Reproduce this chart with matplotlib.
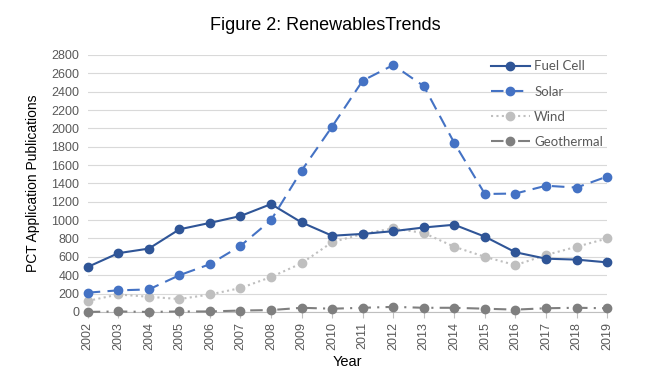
import matplotlib.pyplot as plt

years = list(range(2002, 2020))
fuel_cell = [490, 640, 690, 900, 970, 1045, 1175, 975, 830, 850, 880, 920, 950, 820, 650, 580, 570, 540]
solar = [210, 235, 245, 400, 520, 720, 1000, 1540, 2020, 2520, 2690, 2460, 1840, 1285, 1290, 1375, 1355, 1475]
wind = [120, 190, 165, 140, 190, 260, 380, 530, 760, 850, 910, 860, 710, 600, 510, 620, 710, 800]
geothermal = [0, 5, 0, 5, 5, 15, 20, 45, 35, 45, 55, 45, 45, 35, 25, 40, 45, 40]

arial = ['Liberation Sans', 'DejaVu Sans']

fig = plt.figure(figsize=(6.5, 3.79), dpi=100)
ax = fig.add_axes([0.135, 0.177, 0.799, 0.678])

ms = 6
ax.plot(years, fuel_cell, color='#2F5597', lw=1.5, marker='o', ms=ms, label='Fuel Cell', clip_on=False, zorder=4)
ax.plot(years, solar, color='#4472C4', lw=1.5, marker='o', ms=ms, dashes=(6, 3.5), label='Solar', clip_on=False, zorder=3)
ax.plot(years, wind, color='#BFBFBF', lw=1.5, marker='o', ms=ms, dashes=(1, 1.6), label='Wind', clip_on=False, zorder=2)
ax.plot(years, geothermal, color='#7F7F7F', lw=1.5, marker='o', ms=ms, dashes=(6, 3, 1, 3), label='Geothermal', clip_on=False, zorder=5)

ax.set_xlim(2002, 2019)
ax.set_ylim(0, 2800)
ax.set_yticks(range(0, 2801, 200))
ax.set_xticks(years)
ax.set_xticklabels([str(y) for y in years], rotation=90)
ax.tick_params(axis='both', labelsize=9, colors='#BFBFBF')
ax.tick_params(axis='y', length=0, pad=6)
ax.tick_params(axis='x', length=4, direction='out', pad=3)
for lbl in ax.get_xticklabels() + ax.get_yticklabels():
    lbl.set_color('#595959')
    lbl.set_family(arial)

ax.grid(axis='y', color='#D9D9D9', lw=0.8)
ax.set_axisbelow(True)
for s in ['top', 'right', 'left']:
    ax.spines[s].set_visible(False)
ax.spines['bottom'].set_color('#BFBFBF')

ax.set_xlabel('Year', family=arial, fontsize=10.5)
ax.set_ylabel('PCT Application Publications', family=arial, fontsize=10, labelpad=8)
fig.suptitle('Figure 2: RenewablesTrends', family=arial, fontsize=13, y=0.955)

leg = ax.legend(loc='upper right', bbox_to_anchor=(1.015, 1.025), frameon=False,
                labelspacing=1.0, handlelength=3.0, handletextpad=0.3,
                prop={'family': 'Lato', 'size': 9.5})
for t in leg.get_texts():
    t.set_color('#595959')

plt.savefig('out.png', dpi=100)
